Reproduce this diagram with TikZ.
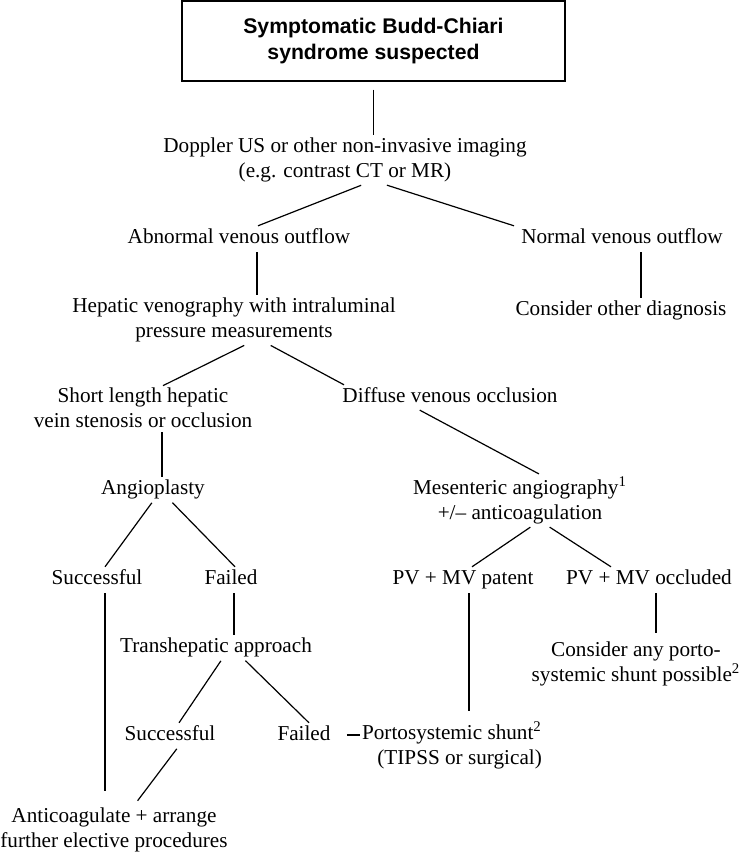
\documentclass[tikz,border=0pt]{standalone}
\usepackage{fontspec}
\setmainfont{Liberation Serif}
\newfontfamily\headfont{Liberation Sans}

\tikzset{
  txt/.style={inner sep=1pt, align=center, font=\fontsize{10.6}{12.5}\selectfont},
  one/.style={txt, text height=7.5pt, text depth=2.3pt},
  headbox/.style={draw, line width=0.7pt, inner sep=0pt, minimum width=191.5pt,
    minimum height=40pt, align=center, font=\headfont\bfseries\fontsize{10.6}{13}\selectfont},
  wire/.style={line width=0.6pt, shorten <=1pt}
}

\begin{document}
\begin{tikzpicture}[x=0.5pt,y=-0.5pt]
\useasboundingbox (0,0) rectangle (739,853);

%% top of the tree
\node[headbox] (box) at (373.5,41) {Symptomatic Budd-Chiari\\syndrome suspected};
\node[txt] (dop) at (345,160) {Doppler US or other non-invasive imaging\\(e.g. contrast CT or MR)};
\node[one] (abn) at (239,238) {Abnormal venous outflow};
\node[one] (norm) at (622,238) {Normal venous outflow};
\node[txt] (ven) at (234,320) {Hepatic venography with intraluminal\\pressure measurements};
\node[one] (other) at (621,310) {Consider other diagnosis};

%% left branch
\node[txt] (short) at (143,408) {Short length hepatic\\vein stenosis or occlusion};
\node[one] (angio) at (153,489) {Angioplasty};
\node[one] (succa) at (97,579) {Successful};
\node[one] (faila) at (231,579) {Failed};
\node[one] (trans) at (216,647) {Transhepatic approach};
\node[one] (succb) at (170,735) {Successful};
\node[one] (failb) at (304,735) {Failed};
\node[txt] (antic) at (114,830) {Anticoagulate + arrange\\further elective procedures};

%% right branch
\node[one] (diff) at (450,397) {Diffuse venous occlusion};
\node[txt] (mes) at (520,500) {Mesenteric angiography\textsuperscript{1}\\+/– anticoagulation};
\node[one] (patent) at (463,579) {PV + MV patent};
\node[one] (occl) at (649,579) {PV + MV occluded};
\node[txt] (porto) at (636,664) {Consider any porto-\\systemic shunt possible\textsuperscript{2}};
\node[txt, align=right] (shunt) at (452,745) {Portosystemic shunt\textsuperscript{2}\\(TIPSS or surgical)};

%% connectors
\draw[wire, shorten <=4pt] (box.south) -- (box.south |- dop.north);
\draw[wire] ([xshift=9pt]dop.south) -- ([xshift=9.5pt]abn.north);
\draw[wire] ([xshift=20pt]dop.south) -- ([xshift=-54pt]norm.north);
\draw[wire] ([xshift=9pt]abn.south) -- ([xshift=9pt]abn.south |- ven.north);
\draw[wire] ([xshift=9.5pt]norm.south) -- ([xshift=9.5pt]norm.south |- other.north);
\draw[wire] ([xshift=6pt]ven.south) -- ([xshift=10pt]short.north);
\draw[wire] ([xshift=17.5pt]ven.south) -- ([xshift=-53pt]diff.north);
\draw[wire] ([xshift=9.5pt]short.south) -- ([xshift=9.5pt]short.south |- angio.north);
\draw[wire] ([xshift=-16pt]diff.south) -- ([xshift=9.5pt]mes.north);
\draw[wire] (angio.south) -- ([xshift=4pt]succa.north);
\draw[wire] ([xshift=9pt]angio.south) -- ([xshift=2pt]faila.north);
\draw[wire] ([xshift=6pt]mes.south) -- ([xshift=4.5pt]patent.north);
\draw[wire] ([xshift=14pt]mes.south) -- ([xshift=-19pt]occl.north);
\draw[wire, shorten >=7pt] ([xshift=4pt]succa.south) -- ([xshift=4pt]succa.south |- antic.north);
\draw[wire] ([xshift=1.5pt]faila.south) -- ([xshift=1.5pt]faila.south |- trans.north);
\draw[wire, shorten >=4pt] ([xshift=3pt]patent.south) -- ([xshift=3pt]patent.south |- shunt.north);
\draw[wire, shorten >=3pt] ([xshift=3.5pt]occl.south) -- ([xshift=3.5pt]occl.south |- porto.north);
\draw[wire] ([xshift=3pt]trans.south) -- ([xshift=4.5pt]succb.north);
\draw[wire] ([xshift=14pt]trans.south) -- ([xshift=2.5pt]failb.north);
\draw[wire, shorten >=3pt] ([xshift=4pt]succb.south) -- ([xshift=10pt]antic.north);
\draw[wire, shorten <=7pt] (failb.east) -- (failb.east -| shunt.west);
\end{tikzpicture}
\end{document}
